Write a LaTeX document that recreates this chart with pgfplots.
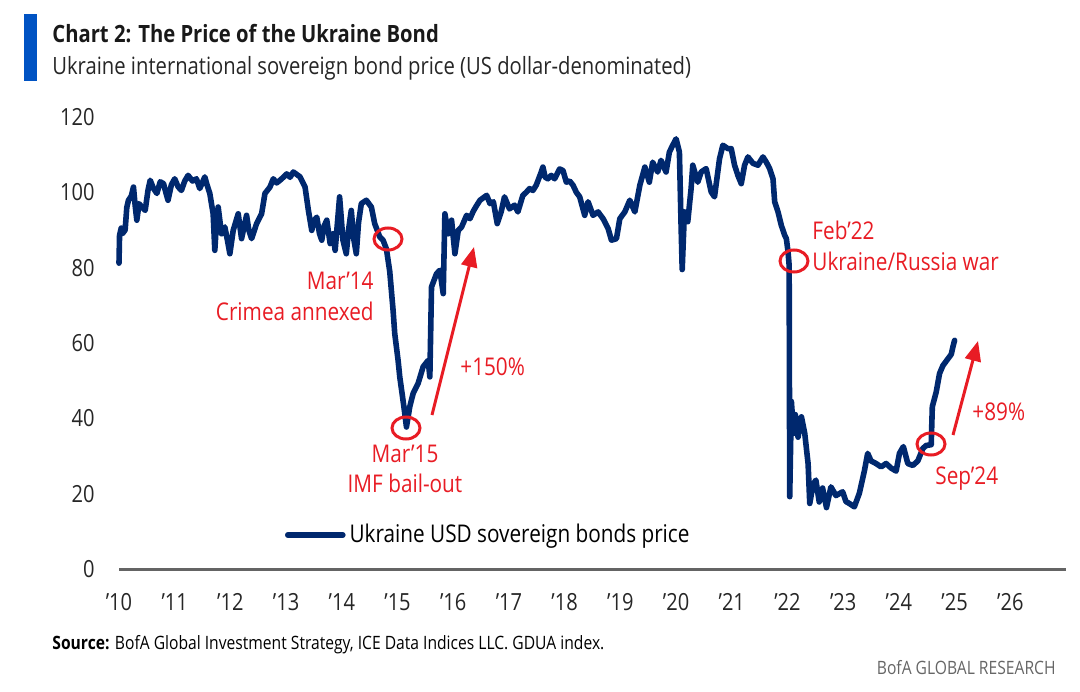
\documentclass[border=0pt]{standalone}
\usepackage{fontspec}
\setmainfont{Open Sans}[FakeStretch=0.85]
\usepackage{pgfplots}
\pgfplotsset{compat=1.18}
\usetikzlibrary{arrows.meta}
\definecolor{navy}{RGB}{0,40,110}
\definecolor{bofablue}{RGB}{0,83,195}
\definecolor{annred}{RGB}{232,28,36}
\definecolor{zeroline}{RGB}{100,100,100}

\begin{document}
\begin{tikzpicture}
\useasboundingbox (-59.5pt,-61pt) rectangle (480.5pt,284.5pt);
\begin{axis}[
  at={(0,0)}, anchor=south west,
  scale only axis, width=473.5pt, height=226pt,
  xmin=2010, xmax=2027, ymin=0, ymax=120,
  axis line style={draw=none},
  tick style={draw=none},
  major tick length=0pt,
  xtick={2010,2011,...,2026},
  xticklabels={'10,'11,'12,'13,'14,'15,'16,'17,'18,'19,'20,'21,'22,'23,'24,'25,'26},
  ytick={0,20,...,120},
  /pgf/number format/assume math mode=true,
  ticklabel style={font=\fontsize{11.8pt}{13pt}\selectfont, text=black!85},
  yticklabel style={anchor=east, inner sep=0pt, xshift=-12pt},
  xticklabel style={anchor=north, inner sep=0pt, yshift=-12pt},
  legend style={at={(0.1753,0.0752)}, anchor=west, draw=none, fill=none,
    inner sep=0pt, outer sep=0pt,
    font=\fontsize{12.2pt}{14pt}\selectfont},
  legend cell align=left,
  clip=false,
]
\draw[zeroline, line width=1.5pt] (axis cs:2010,0) -- (axis cs:2027,0);
\addplot[navy, line width=2.8pt, line join=round, line cap=round,
  legend image code/.code={\draw[navy, line width=2.8pt] (0pt,0pt) -- (27.5pt,0pt);}]
coordinates {
(2010.00,81.2) (2010.01,88.6) (2010.04,90.5) (2010.06,89.0) (2010.11,90.0) (2010.14,96.0) (2010.17,97.9) (2010.22,99.0)
(2010.26,101.4) (2010.29,96.5) (2010.32,92.6) (2010.36,97.0) (2010.41,96.1) (2010.47,95.2) (2010.52,100.5) (2010.56,103.2) (2010.62,101.0)
(2010.68,99.7) (2010.74,102.8) (2010.80,102.3) (2010.84,100.0) (2010.88,97.9) (2010.94,102.0) (2011.00,103.6) (2011.06,101.5) (2011.12,100.5) (2011.18,103.0) (2011.24,104.5)
(2011.32,103.0) (2011.39,103.6) (2011.45,101.0) (2011.54,104.1) (2011.58,102.0) (2011.63,99.7) (2011.69,94.3) (2011.72,84.6)
(2011.75,92.0) (2011.78,96.1) (2011.84,89.0) (2011.90,90.8) (2011.95,87.0) (2011.99,83.7) (2012.05,89.9)
(2012.14,94.3) (2012.20,87.7) (2012.29,93.9) (2012.33,90.0) (2012.38,87.7) (2012.47,91.7) (2012.56,94.3)
(2012.62,99.7) (2012.71,101.4) (2012.77,103.6) (2012.83,102.5) (2012.89,103.2) (2012.95,104.0) (2013.01,104.9) (2013.07,104.0) (2013.13,105.4)
(2013.25,104.1) (2013.34,101.4) (2013.40,95.2) (2013.46,89.9) (2013.50,92.5) (2013.55,93.4) (2013.60,89.0) (2013.64,87.3)
(2013.68,91.0) (2013.73,92.6) (2013.79,86.4) (2013.84,89.0) (2013.88,84.6) (2013.96,98.8) (2014.02,87.3) (2014.08,83.7)
(2014.12,90.0) (2014.17,95.2) (2014.21,88.0) (2014.26,83.7) (2014.30,92.0) (2014.35,97.0) (2014.44,97.9) (2014.53,96.1) (2014.59,91.7)
(2014.68,88.2) (2014.74,87.3) (2014.80,85.0) (2014.86,79.0) (2014.92,68.7) (2014.95,62.5)
(2015.01,55.4) (2015.04,51.0) (2015.09,45.7) (2015.13,41.3) (2015.16,37.7) (2015.22,43.1)
(2015.28,46.6) (2015.37,49.3) (2015.46,53.7) (2015.55,55.4) (2015.58,51.0) (2015.61,74.9)
(2015.70,78.4) (2015.76,79.3) (2015.82,73.1) (2015.85,94.3) (2015.91,89.0) (2015.97,92.6)
(2016.03,83.7) (2016.09,89.9) (2016.15,90.8) (2016.24,93.9) (2016.30,93.0) (2016.36,95.0) (2016.42,96.5) (2016.48,97.9)
(2016.60,99.2) (2016.66,97.0) (2016.72,97.5) (2016.79,91.7) (2016.86,94.8) (2016.92,98.8) (2017.01,95.6)
(2017.10,96.6) (2017.16,94.8) (2017.25,99.2) (2017.31,100.0) (2017.37,101.0) (2017.43,100.5) (2017.49,101.9) (2017.58,105.4)
(2017.61,106.7) (2017.65,104.0) (2017.70,103.6) (2017.76,104.5) (2017.82,103.6) (2017.91,106.2) (2017.97,105.8) (2018.03,102.7)
(2018.09,103.0) (2018.15,101.9) (2018.21,100.0) (2018.27,98.8) (2018.36,93.9) (2018.42,97.5) (2018.51,93.9) (2018.60,94.8)
(2018.69,93.0) (2018.78,90.4) (2018.84,87.3) (2018.93,87.7) (2018.99,93.0) (2019.08,94.8)
(2019.17,97.9) (2019.26,94.8) (2019.35,101.9) (2019.44,106.7) (2019.52,102.7) (2019.58,108.0)
(2019.67,105.4) (2019.73,108.5) (2019.82,105.4) (2019.88,110.7) (2019.94,112.5) (2020.00,114.2) (2020.06,110.7)
(2020.09,91.2) (2020.11,79.5) (2020.15,94.8) (2020.21,92.2) (2020.27,101.0) (2020.30,107.2)
(2020.39,102.7) (2020.45,105.4) (2020.54,106.3) (2020.63,100.1) (2020.69,98.8) (2020.78,108.9)
(2020.84,112.5) (2020.93,111.6) (2020.99,111.6) (2021.05,107.2) (2021.11,104.5) (2021.17,102.3)
(2021.23,107.2) (2021.29,109.4) (2021.38,107.7) (2021.47,107.2) (2021.56,109.4) (2021.62,108.0)
(2021.68,106.3) (2021.74,103.6) (2021.77,97.5) (2021.83,94.8) (2021.89,91.2) (2021.95,88.6)
(2021.98,87.7) (2022.01,84.2) (2022.03,80.6) (2022.04,19.2) (2022.07,44.5) (2022.11,36.0)
(2022.14,41.0) (2022.19,35.0) (2022.25,40.4) (2022.31,36.0) (2022.37,28.0) (2022.40,17.4)
(2022.46,22.5) (2022.51,23.6) (2022.57,17.8) (2022.63,21.5) (2022.70,16.3) (2022.78,21.8)
(2022.87,19.5) (2022.99,20.5) (2023.05,17.9) (2023.11,17.4) (2023.20,16.5) (2023.29,20.1)
(2023.38,26.0) (2023.44,30.7) (2023.50,28.7) (2023.59,28.0) (2023.68,27.1) (2023.77,28.0)
(2023.86,26.8) (2023.95,26.0) (2024.01,30.7) (2024.08,32.5) (2024.16,28.0) (2024.25,27.5)
(2024.34,28.7) (2024.43,32.0) (2024.49,32.8) (2024.58,33.0) (2024.60,43.1) (2024.67,47.0)
(2024.73,51.9) (2024.79,54.0) (2024.88,55.8) (2024.94,57.0) (2024.97,59.0) (2025.00,60.7)
};
\addlegendentry{Ukraine USD sovereign bonds price}
\end{axis}

\begin{scope}[shift={(-59.5pt,284.5pt)}, x=0.5pt, y=-0.5pt]
  % header
  \fill[bofablue] (24,14) rectangle (37,81);
  \node[anchor=base west, inner sep=0pt, font=\fontsize{11.9pt}{14pt}\selectfont\bfseries, text=black!90] at (52,43) {Chart 2: The Price of the Ukraine Bond};
  \node[anchor=base west, inner sep=0pt, font=\fontsize{11.9pt}{14pt}\selectfont, text=black!85] at (52,75) {Ukraine international sovereign bond price (US dollar-denominated)};
  % annotations
  \begin{scope}[annred, line width=1.5pt]
    \draw (388,239) ellipse [x radius=14, y radius=11];
    \draw (406,428) ellipse [x radius=14, y radius=11];
    \draw (794,261) ellipse [x radius=14, y radius=11];
    \draw (931,444) ellipse [x radius=14, y radius=11];
    \draw[-{Triangle[length=10pt,width=8pt]}] (432,415) -- (474,247);
    \draw[-{Triangle[length=10pt,width=8pt]}] (953,435) -- (978,341);
  \end{scope}
  \begin{scope}[every node/.style={inner sep=0pt, text=annred, font=\fontsize{12.2pt}{14pt}\selectfont}]
    \node[anchor=base east] at (374,290) {Mar'14};
    \node[anchor=base east] at (374,320) {Crimea annexed};
    \node[anchor=base] at (405,462) {Mar'15};
    \node[anchor=base] at (405,492) {IMF bail-out};
    \node[anchor=base west] at (460,375) {+150\%};
    \node[anchor=base west] at (812,240) {Feb'22};
    \node[anchor=base west] at (812,270) {Ukraine/Russia war};
    \node[anchor=base west] at (935,484) {Sep'24};
    \node[anchor=base west] at (972,420) {+89\%};
  \end{scope}
  % footer
  \node[anchor=base west, inner sep=0pt, font=\fontsize{9.2pt}{10pt}\selectfont, text=black] at (52,649) {\textbf{Source:} BofA Global Investment Strategy, ICE Data Indices LLC. GDUA index.};
  \node[anchor=base east, inner sep=0pt, font=\fontsize{9.2pt}{10pt}\selectfont, text=black!60] at (1056,674) {BofA GLOBAL RESEARCH};
\end{scope}
\end{tikzpicture}
\end{document}
